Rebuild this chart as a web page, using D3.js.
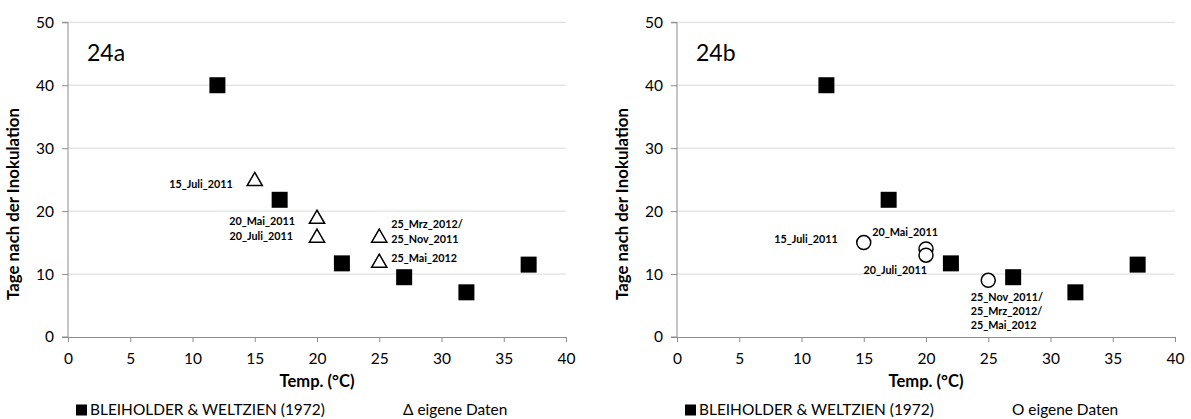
<!DOCTYPE html>
<html><head><meta charset="utf-8">
<script src="https://cdn.jsdelivr.net/npm/d3@7"></script>
<style>body{margin:0;background:#fff}svg{display:block}</style>
</head><body>
<svg id="c" width="1191" height="419"></svg>
<script>
// ---- data ----
const bleiTemp = [12, 17, 22, 27, 32, 37];
const bleiDays = [40, 21.8, 11.7, 9.5, 7.1, 11.5];
const ownTempA = [15, 20, 20, 25, 25];
const ownDaysA = [25, 19, 16, 16, 12];
const ownTempB = [15, 20, 20, 25];
const ownDaysB = [15, 14, 13, 9];
const xTicks = [0, 5, 10, 15, 20, 25, 30, 35, 40];
const yTicks = [0, 10, 20, 30, 40, 50];
const panelNames = ["24a", "24b"];
const legendBlei = "BLEIHOLDER & WELTZIEN (1972)";
const legendOwn = ["\u0394 eigene Daten", "O eigene Daten"];
const xTitle = "Temp. (°C)";
const yTitle = "Tage nach der Inokulation";
// point annotations: [text, temp, days]
const notesA = [["15_Juli_2011", 15, 25], ["20_Mai_2011", 20, 19], ["20_Juli_2011", 20, 16],
                ["25_Mrz_2012/", 25, 16], ["25_Nov_2011", 25, 16], ["25_Mai_2012", 25, 12]];
const notesB = [["15_Juli_2011", 15, 15], ["20_Mai_2011", 20, 14], ["20_Juli_2011", 20, 13],
                ["25_Nov_2011/", 25, 9], ["25_Mrz_2012/", 25, 9], ["25_Mai_2012", 25, 9]];

// ---- layout (anchor, dx, dy in px) ----
const notesLayoutA = [["end", -22, 4], ["end", -22, 4], ["end", -24, 0], ["start", 12, -12], ["start", 12, 3], ["start", 12, -3]];
const notesLayoutB = [["end", -26, -3.5], ["end", 12, -17], ["end", 1, 15], ["start", -17.5, 16.4], ["start", -17.5, 30.7], ["start", -17.5, 44.9]];

const FONT = "Lato, 'Open Sans', sans-serif";
const svg = d3.select("#c");

function fit(sel, target) {
  const fs = +sel.attr("font-size");
  const w = sel.node().getComputedTextLength();
  sel.attr("font-size", fs * target / w);
  return fs * target / w;
}

const panels = [
  {x0: 68, name: panelNames[0], own: d3.zip(ownTempA, ownDaysA), notes: notesA, lay: notesLayoutA, shape: "tri", leg: legendOwn[0]},
  {x0: 677, name: panelNames[1], own: d3.zip(ownTempB, ownDaysB), notes: notesB, lay: notesLayoutB, shape: "circ", leg: legendOwn[1]}
];
const W = 498, yTop = 22.3, yBot = 337;

panels.forEach(p => {
  const g = svg.append("g");
  const x = d3.scaleLinear().domain([0, 40]).range([p.x0, p.x0 + W]);
  const y = d3.scaleLinear().domain([0, 50]).range([yBot, yTop]);

  // gridlines
  g.append("g").selectAll("line").data(yTicks.filter(v => v > 0)).join("line")
    .attr("x1", p.x0).attr("x2", p.x0 + W).attr("y1", d => y(d)).attr("y2", d => y(d))
    .attr("stroke", "#d9d9d9").attr("stroke-width", 1);

  // axes
  const ya = g.append("g").attr("transform", `translate(${p.x0},0)`)
    .call(d3.axisLeft(y).tickValues(yTicks).tickSize(6).tickPadding(8));
  const xa = g.append("g").attr("transform", `translate(0,${yBot})`)
    .call(d3.axisBottom(x).tickValues(xTicks).tickSize(5).tickPadding(11));
  [ya, xa].forEach(a => {
    a.select(".domain").attr("stroke", "#8c8c8c");
    a.selectAll(".tick line").attr("stroke", "#8c8c8c");
    a.selectAll("text").attr("font-family", FONT).attr("font-size", 15.5).attr("fill", "#000");
  });
  ya.select(".domain").attr("d", `M-6,${yBot}H0V${yTop}H-6`);

  // panel name
  g.append("text").attr("x", p.x0 + 19).attr("y", 61).text(p.name)
    .attr("font-family", FONT).attr("font-size", 23).attr("fill", "#000");

  // axis titles
  const yt = g.append("text").attr("transform", `translate(${p.x0 - 49},204) rotate(-90)`)
    .attr("text-anchor", "middle").text(yTitle)
    .attr("font-family", FONT).attr("font-weight", "bold").attr("font-size", 14).attr("fill", "#000");
  fit(yt, 192);
  const xt = g.append("text").attr("x", x(20)).attr("y", 387).attr("text-anchor", "middle").text(xTitle)
    .attr("font-family", FONT).attr("font-weight", "bold").attr("font-size", 14).attr("fill", "#000");
  fit(xt, 75);

  // own data
  if (p.shape === "tri") {
    const tri = d3.symbol().type(d3.symbolTriangle).size(100);
    g.append("g").selectAll("path").data(p.own).join("path")
      .attr("d", tri).attr("transform", d => `translate(${x(d[0])},${y(d[1]) + 1.5})`)
      .attr("fill", "#fff").attr("stroke", "#000").attr("stroke-width", 1.5);
  } else {
    g.append("g").selectAll("circle").data(p.own).join("circle")
      .attr("cx", d => x(d[0])).attr("cy", d => y(d[1])).attr("r", 7)
      .attr("fill", "#fff").attr("stroke", "#000").attr("stroke-width", 1.5);
  }
  // reference data
  g.append("g").selectAll("rect").data(d3.zip(bleiTemp, bleiDays)).join("rect")
    .attr("x", d => x(d[0]) - 8).attr("y", d => y(d[1]) - 8).attr("width", 16).attr("height", 16)
    .attr("fill", "#000");

  // annotations
  const nt = g.append("g").selectAll("text").data(d3.zip(p.notes, p.lay)).join("text")
    .attr("x", d => x(d[0][1]) + d[1][1])
    .attr("text-anchor", d => d[1][0]).text(d => d[0][0])
    .attr("font-family", FONT).attr("font-weight", "bold").attr("font-size", 10.5).attr("fill", "#000");
  const nfs = fit(d3.select(nt.nodes()[0]), 63.5);
  nt.attr("font-size", nfs).attr("y", d => y(d[0][2]) + d[1][2] + nfs * 0.36);

  // legend
  g.append("rect").attr("x", p.x0 + 8).attr("y", 404.5).attr("width", 11).attr("height", 11).attr("fill", "#000");
  const lb = g.append("text").attr("x", p.x0 + 22).attr("y", 415).text(legendBlei)
    .attr("font-family", FONT).attr("font-size", 14.5).attr("fill", "#000");
  const lfs = fit(lb, 235);
  g.append("text").attr("x", p.x0 + 335).attr("y", 415).text(p.leg)
    .attr("font-family", FONT).attr("font-size", lfs).attr("fill", "#000");
});
</script>
</body></html>
